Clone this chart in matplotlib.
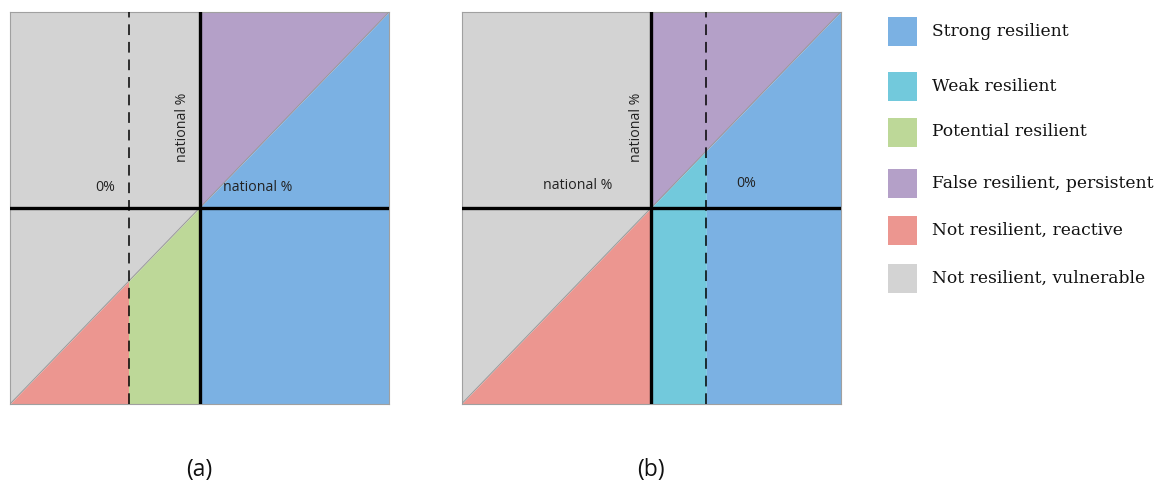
import numpy as np
import matplotlib.pyplot as plt
from matplotlib.patches import Rectangle

# Region categories and their colours
categories = [
    "Strong resilient",
    "Weak resilient",
    "Potential resilient",
    "False resilient, persistent",
    "Not resilient, reactive",
    "Not resilient, vulnerable",
]
colors = {
    "Strong resilient": "#7bb1e3",
    "Weak resilient": "#72c9dc",
    "Potential resilient": "#bdd898",
    "False resilient, persistent": "#b4a0c8",
    "Not resilient, reactive": "#ec9690",
    "Not resilient, vulnerable": "#d3d3d3",
}

# Thresholds on the unit axes: the national level and the 0% line per panel
national = 0.5
zero_line = {"a": 0.313, "b": 0.646}
panel_labels = ["(a)", "(b)"]

fig = plt.figure(figsize=(11.58, 4.84), dpi=100)
W, H = 1158, 484


def axes_px(x0, y0, x1, y1):
    return fig.add_axes([x0 / W, 1 - y1 / H, (x1 - x0) / W, (y1 - y0) / H])


def region(ax, x0, x1, lower, upper, cat):
    xs = np.array([x0, x1])
    lo = xs if lower == "diag" else np.full(2, lower)
    hi = xs if upper == "diag" else np.full(2, upper)
    ax.fill_between(xs, lo, hi, color=colors[cat], linewidth=0)


def frame(ax):
    ax.set_xlim(0, 1)
    ax.set_ylim(0, 1)
    ax.set_xticks([])
    ax.set_yticks([])
    for s in ax.spines.values():
        s.set_color("#a0a0a0")
        s.set_linewidth(0.8)


def guides(ax, z):
    ax.plot([0, 1], [0, 1], color="#9a9a9a", lw=0.7, zorder=3)
    ax.axhline(national, color="black", lw=2.4, zorder=4)
    ax.axvline(national, color="black", lw=2.4, zorder=4)
    ax.axvline(z, color="black", lw=1.1, ls=(0, (7, 4.5)), zorder=4)


sans = "Open Sans"
txt_kw = dict(family=sans, fontsize=10.2, color="#222222", zorder=5)

# Panel (a): 0% line to the left of the national level
ax_a = axes_px(10, 12, 389, 404)
za = zero_line["a"]
region(ax_a, 0, national, "diag", 1, "Not resilient, vulnerable")
region(ax_a, 0, za, 0, "diag", "Not resilient, reactive")
region(ax_a, za, national, 0, "diag", "Potential resilient")
region(ax_a, national, 1, "diag", 1, "False resilient, persistent")
region(ax_a, national, 1, 0, "diag", "Strong resilient")
ax_a.fill_between([za, national], [0, 0], [za, za], color=colors["Potential resilient"], lw=0)
guides(ax_a, za)
frame(ax_a)
ax_a.text(0.252, 0.553, "0%", ha="center", va="center", **txt_kw)
ax_a.text(0.654, 0.553, "national %", ha="center", va="center", **txt_kw)
ax_a.text(0.454, 0.707, "national %", ha="center", va="center", rotation=90, **txt_kw)

# Panel (b): 0% line to the right of the national level
ax_b = axes_px(461.5, 12, 840.5, 404)
zb = zero_line["b"]
region(ax_b, 0, national, "diag", 1, "Not resilient, vulnerable")
region(ax_b, 0, national, 0, "diag", "Not resilient, reactive")
region(ax_b, national, 1, "diag", 1, "False resilient, persistent")
region(ax_b, national, zb, 0, "diag", "Weak resilient")
region(ax_b, zb, 1, 0, "diag", "Strong resilient")
guides(ax_b, zb)
frame(ax_b)
ax_b.text(0.307, 0.558, "national %", ha="center", va="center", **txt_kw)
ax_b.text(0.751, 0.562, "0%", ha="center", va="center", **txt_kw)
ax_b.text(0.463, 0.707, "national %", ha="center", va="center", rotation=90, **txt_kw)

# Panel captions
for ax, lab in zip([ax_a, ax_b], panel_labels):
    ax.text(0.5, -0.168, lab, transform=ax.transAxes, ha="center", va="center",
            family=sans, fontsize=16.5, color="#111111")

# Legend drawn as coloured squares with labels
leg = fig.add_axes([0, 0, 1, 1], facecolor="none")
leg.set_xlim(0, W)
leg.set_ylim(H, 0)
leg.axis("off")
row_y = [31.5, 86.5, 132, 183, 230, 278]
for cat, yc in zip(categories, row_y):
    leg.add_patch(Rectangle((888, yc - 14.5), 29, 29, color=colors[cat], lw=0))
    leg.text(932, yc, cat, ha="left", va="center", family="DejaVu Serif",
             fontsize=12.3, color="#111111")

fig.savefig("out.png", dpi=100)
